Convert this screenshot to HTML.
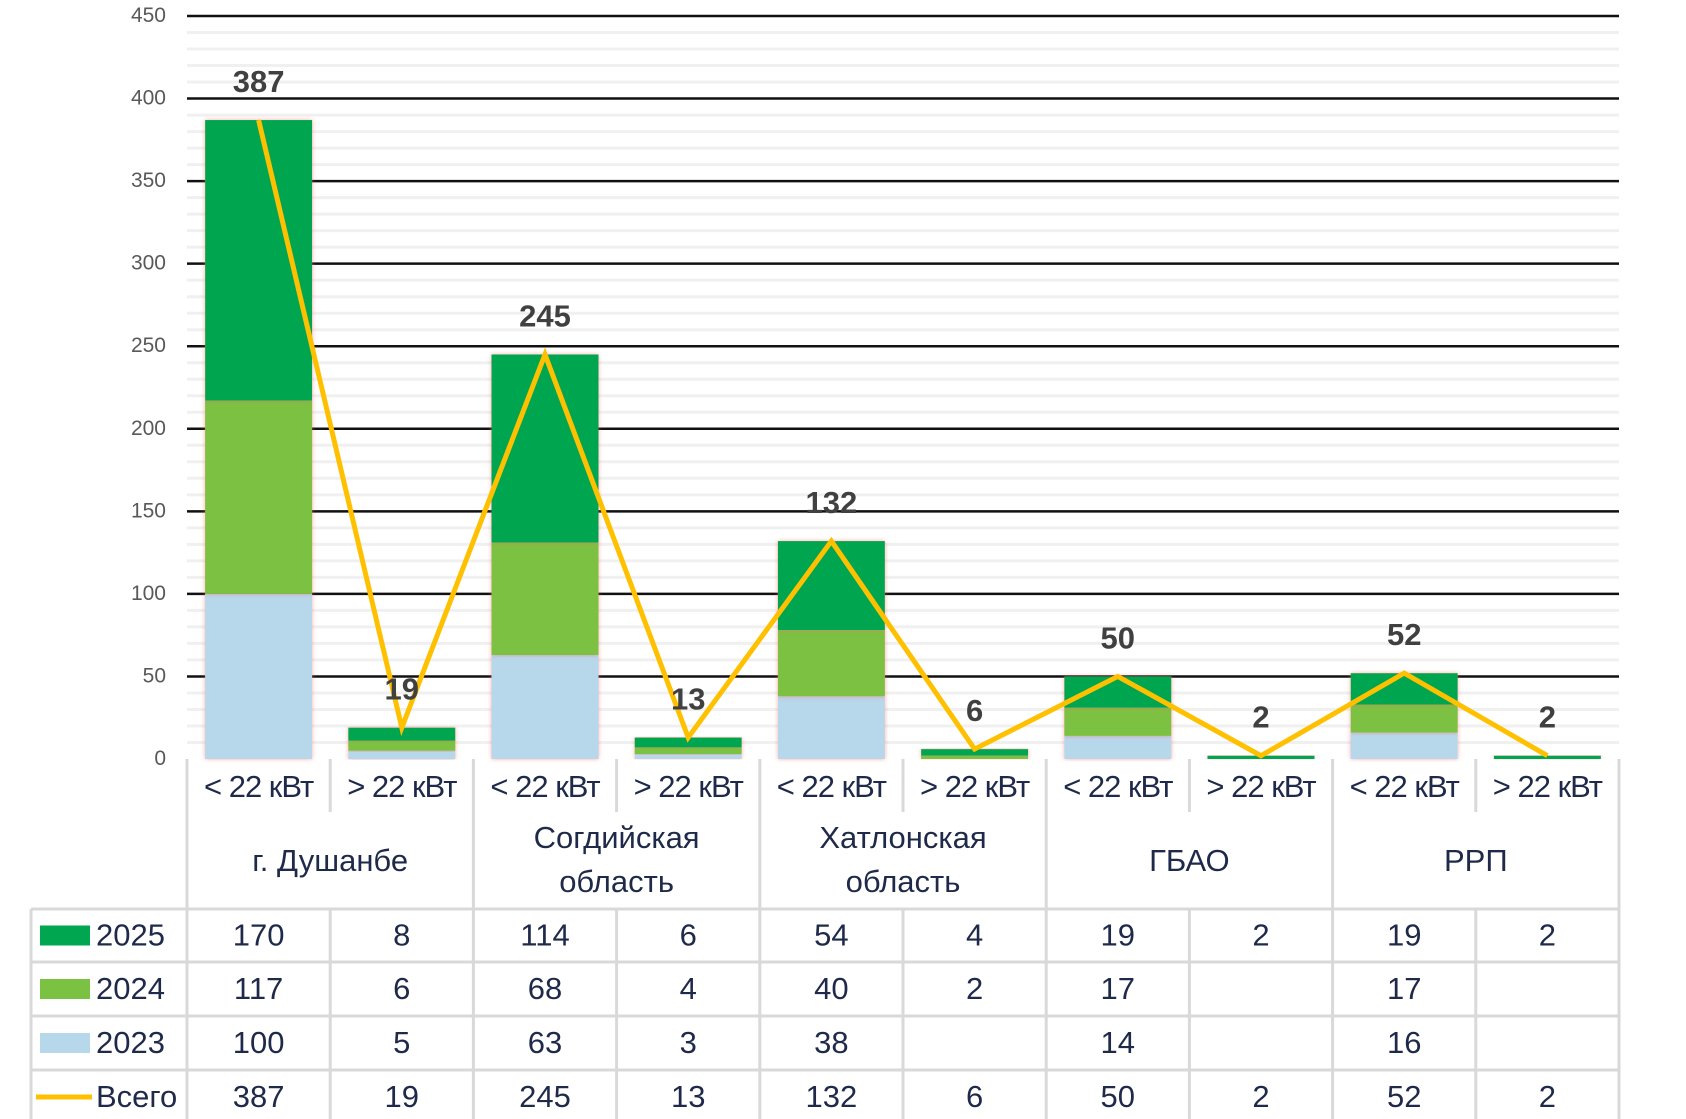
<!DOCTYPE html>
<html><head><meta charset="utf-8">
<style>
html,body{margin:0;padding:0;background:#fff;}
svg{display:block;font-family:"Liberation Sans",sans-serif;}
</style></head>
<body>
<svg id="chart" width="1686" height="1119" viewBox="0 0 1686 1119">
<defs>
<filter id="glow" x="-10%" y="-10%" width="120%" height="120%">
<feDropShadow dx="0" dy="0" stdDeviation="2" flood-color="#ff6060" flood-opacity="0.55"/>
</filter>
</defs>
<g id="grid"></g>
<g id="yaxis"></g>
<g id="bars"></g>
<g id="line"></g>
<g id="labels"></g>
<g id="table"></g>
</svg>
<script>
const subLabels = ["< 22 кВт","> 22 кВт","< 22 кВт","> 22 кВт","< 22 кВт","> 22 кВт","< 22 кВт","> 22 кВт","< 22 кВт","> 22 кВт"];
const regions = [["г. Душанбе"],["Согдийская","область"],["Хатлонская","область"],["ГБАО"],["РРП"]];
const v2023 = [100,5,63,3,38,null,14,null,16,null];
const v2024 = [117,6,68,4,40,2,17,null,17,null];
const v2025 = [170,8,114,6,54,4,19,2,19,2];
const totals = [387,19,245,13,132,6,50,2,52,2];
const yTicks = [0,50,100,150,200,250,300,350,400,450];

const NS="http://www.w3.org/2000/svg";
const X0=187, X1=1619, Y0=759, YTOP=16, YMAX=450;
const colW=(X1-X0)/subLabels.length;
const y=v=>Y0-(v/YMAX)*(Y0-YTOP);
const xc=i=>X0+colW*(i+0.5);
function el(tag,attrs,parent,text){const e=document.createElementNS(NS,tag);for(const k in attrs)e.setAttribute(k,attrs[k]);if(text!==undefined)e.textContent=text;parent.appendChild(e);return e;}
const gGrid=document.getElementById('grid'),gY=document.getElementById('yaxis'),gB=document.getElementById('bars'),gL=document.getElementById('line'),gLab=document.getElementById('labels'),gT=document.getElementById('table');

for(let v=10;v<YMAX;v+=10){if(v%50===0)continue;
 const l=el('line',{x1:X0,x2:X1,y1:y(v),y2:y(v),stroke:'#f0f0f0','stroke-width':3},gGrid);
 
 }
yTicks.forEach(t=>{
 if(t>0){const l=el('line',{x1:X0,x2:X1,y1:y(t),y2:y(t),stroke:'#111','stroke-width':2.5},gGrid);
 
 }
 const tx=el('text',{x:166,y:y(t)+6,'text-anchor':'end','font-size':21,fill:'#595959'},gY,String(t));
 
 
});

const colors={c2023:'#b7d7ea',c2024:'#7bc142',c2025:'#00a650'};
const BW=107;
for(let i=0;i<subLabels.length;i++){
 let base=0;
 [[v2023[i],colors.c2023,'2023'],[v2024[i],colors.c2024,'2024'],[v2025[i],colors.c2025,'2025']].forEach(([v,c,s])=>{
  if(!v)return;
  const r=el('rect',{x:xc(i)-BW/2,y:y(base+v),width:BW,height:y(base)-y(base+v),fill:c,filter:'url(#glow)'},gB);
  
  
  base+=v;
 });
}
const pts=totals.map((v,i)=>xc(i)+','+y(v)).join(' ');
const pl=el('polyline',{points:pts,fill:'none',stroke:'#ffc000','stroke-width':5,'stroke-linejoin':'miter'},gL);


totals.forEach((v,i)=>{
 const t=el('text',{x:xc(i),y:y(v)-28,'text-anchor':'middle','font-size':31,'font-weight':'bold',fill:'#404040'},gLab,String(v));
 
 
});

const TC='#d9d9d9',TXT='#1f2a4a';
const rowsY=[909,962,1016,1070,1124];
function tl(x1,y1,x2,y2){const l=el('line',{x1,y1,x2,y2,stroke:TC,'stroke-width':3},gT);
 
 }
tl(X0,Y0,X0,1119);tl(X1,Y0,X1,1119);
for(let r=0;r<4;r++)tl(31,rowsY[r],X1,rowsY[r]);
tl(31,909,31,1119);
for(let i=1;i<subLabels.length;i++){
 if(i%2===0)tl(X0+colW*i,Y0,X0+colW*i,1119);
 else{tl(X0+colW*i,Y0,X0+colW*i,812);tl(X0+colW*i,909,X0+colW*i,1119);}
}
subLabels.forEach((s,i)=>{
 const t=el('text',{x:xc(i),y:797,'text-anchor':'middle','font-size':31,fill:TXT,'letter-spacing':'-1'},gT,s);
 
 
});
regions.forEach((lines,k)=>{
 const cx=X0+colW*(2*k+1);
 const ys=lines.length===1?[871]:[848,892];
 lines.forEach((ln,j)=>{
  const t=el('text',{x:cx,y:ys[j],'text-anchor':'middle','font-size':31,fill:TXT},gT,ln);
  
  
 });
});
const series=[['2025',v2025,colors.c2025],['2024',v2024,colors.c2024],['2023',v2023,colors.c2023],['Всего',totals,'#ffc000']];
series.forEach(([name,vals,c],r)=>{
 const cy=(rowsY[r]+rowsY[r+1])/2;
 if(r<3){const k=el('rect',{x:40,y:cy-10,width:50,height:20,fill:c},gT);
  
  }
 else{const k=el('line',{x1:36,x2:92,y1:cy,y2:cy,stroke:c,'stroke-width':5},gT);
  
  }
 const lt=el('text',{x:96,y:cy+10,'font-size':31,fill:TXT},gT,name);
 
 
 vals.forEach((v,i)=>{
  if(v===null)return;
  const t=el('text',{x:xc(i),y:cy+10,'text-anchor':'middle','font-size':31,fill:TXT},gT,String(v));
  
  
 });
});
</script>
</body></html>
